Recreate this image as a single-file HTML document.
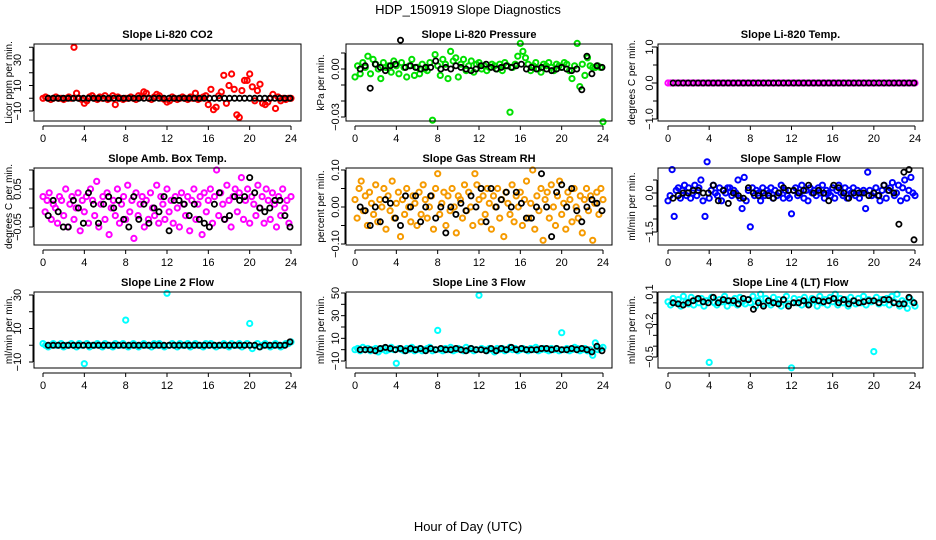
<!DOCTYPE html>
<html><head><meta charset="utf-8"><style>
html,body{margin:0;padding:0;background:#fff;}
svg{display:block;font-family:"Liberation Sans",Arial,sans-serif;}
</style></head><body>
<svg id="chart" width="936" height="540" viewBox="0 0 936 540" xmlns="http://www.w3.org/2000/svg">
<text x="468" y="14" font-size="13" text-anchor="middle">HDP_150919  Slope Diagnostics</text>
<text x="468" y="531" font-size="13" text-anchor="middle">Hour of Day (UTC)</text>
</svg>
<script>
const xTicks = [0,4,8,12,16,20,24];
const co2Vals = [0,1,0,-1,0,1,0,0,-1,0,1,0,40,4,0,-1,-4,-2,1,2,0,-1,1,0,2,-1,0,2,-5,1,0,-1,0,0,1,0,-1,2,1,5,4,0,-1,1,3,2,0,-1,-3,-2,1,0,-1,0,1,0,-1,1,0,4,-1,0,1,2,-5,7,-9,-7,2,5,18,-4,10,19,7,-13,-15,6,14,14,19,9,-2,6,11,-4,-5,-3,0,3,-8,1,-2,0,-1,0,0];
const co2Black = [0,0,0,0,0,0,0,0,0,0,0,0,0,0,0,0,0,0,0,0,0,0,0,0,0,0,0,0,0,0,0,0,0,0,0,0,0,0,0,0,0,0,0,0,0,0,0,0,0];
const presVals = [-0.005,0.002,-0.003,0.004,0.001,0.008,-0.003,0.006,0.003,0,-0.006,0.004,0.001,0.002,-0.002,0.005,0.002,-0.003,0.004,0.001,-0.005,0.002,0.006,-0.004,0.001,-0.003,0.003,0,-0.001,0.004,-0.032,0.009,0.002,-0.004,0.006,0.003,-0.006,0.011,0.005,0.007,-0.005,0.003,0.006,-0.001,0.002,0.005,-0.002,0.003,0.004,0,0.002,-0.001,0.001,0.003,0.002,0,0.003,-0.001,0.004,0.002,-0.027,0.001,0.003,0.008,0.016,0.011,0.007,0.003,-0.001,0.002,0.004,0,-0.002,0.003,0.002,0.004,0.001,-0.001,0.003,0.002,0.001,0.004,0.003,-0.001,-0.006,0.002,0.016,-0.011,0.003,-0.004,0.007,0.002,0.001,0.001,0.002,0.001,-0.033];
const presBlack = [0,0.002,-0.012,0.003,0.001,-0.001,0.002,0.003,0.018,0.001,0.002,0.001,0,0.001,0.001,0.005,0,0.001,0,0.002,0.001,0,-0.001,0,0.002,0.003,0.001,0,0.001,0.002,0.001,0.002,0.003,0,0.001,0,0.001,0,-0.001,0,0.001,0,-0.001,0,-0.013,0.008,-0.003,0.002,0.001];
const tempVals = [0,0,0,0,0,0,0,0,0,0,0,0,0,0,0,0,0,0,0,0,0,0,0,0,0,0,0,0,0,0,0,0,0,0,0,0,0,0,0,0,0,0,0,0,0,0,0,0,0,0,0,0,0,0,0,0,0,0,0,0,0,0,0,0,0,0,0,0,0,0,0,0,0,0,0,0,0,0,0,0,0,0,0,0,0,0,0,0,0,0,0,0,0,0,0,0,0];
const tempBlack = [0,0,0,0,0,0,0,0,0,0,0,0,0,0,0,0,0,0,0,0,0,0,0,0,0,0,0,0,0,0,0,0,0,0,0,0,0,0,0,0,0,0,0,0,0,0,0,0,0];
const boxVals = [0.03,-0.01,0.02,0.04,-0.03,0.01,0.0,-0.04,0.03,0.02,-0.02,0.05,-0.05,0.01,0.03,-0.03,0.0,0.04,-0.06,0.02,-0.01,0.03,-0.04,0.05,0.02,-0.02,0.07,-0.05,0.01,0.03,-0.03,0.04,-0.07,0.0,0.02,-0.02,0.05,-0.04,0.01,0.03,-0.03,0.06,-0.01,0.02,-0.08,0.04,-0.02,0.01,0.03,-0.05,0.02,-0.03,0.04,0.0,-0.02,0.06,-0.04,0.03,0.01,-0.03,0.05,-0.01,0.02,-0.04,0.03,0.0,-0.05,0.04,0.01,-0.02,0.03,-0.06,0.02,0.05,-0.03,0.01,0.03,-0.07,0.04,-0.01,0.02,0.05,-0.04,0.03,0.1,-0.02,0.04,0.01,-0.03,0.06,0.02,-0.05,0.03,0.05,-0.01,0.04,0.08,-0.03,0.02,0.05,-0.04,0.03,0.01,-0.02,0.06,0.0,0.03,-0.04,0.05,0.02,-0.03,0.04,0.01,-0.05,0.03,-0.02,0.05,0.0,0.02,-0.04,0.03];
const boxBlack = [-0.02,0.02,-0.01,-0.05,-0.05,0.02,0.0,-0.04,0.04,0.01,-0.04,0.01,0.03,0.0,0.02,-0.03,-0.05,0.03,-0.03,0.01,-0.04,0.0,-0.01,0.03,-0.06,0.02,0.02,0.01,-0.02,0.01,-0.03,-0.04,-0.05,0.01,0.04,-0.03,-0.02,0.03,0.02,0.03,0.08,0.04,0.0,-0.01,0.0,0.02,0.02,-0.02,-0.05];
const rhVals = [0.02,-0.03,0.05,0.07,-0.01,0.03,-0.05,0.04,0.01,-0.02,0.06,-0.04,0.02,0.0,0.05,-0.06,0.03,-0.01,0.07,-0.03,0.01,0.04,-0.08,0.02,-0.02,0.05,0.0,-0.04,0.03,0.01,-0.05,0.04,-0.02,0.06,0.02,-0.03,0.0,0.03,-0.06,0.05,0.09,-0.02,0.01,0.04,-0.05,0.03,-0.01,0.05,0.0,-0.07,0.03,0.02,-0.03,0.06,-0.01,0.04,0.0,-0.05,0.09,0.06,0.02,-0.04,0.03,-0.02,0.05,0.01,-0.06,0.03,0.0,0.05,-0.03,0.02,-0.08,0.04,0.01,-0.02,0.06,-0.04,0.03,0.0,0.04,-0.05,0.02,0.07,-0.03,0.01,0.1,-0.06,0.03,-0.01,0.05,-0.09,0.02,0.04,-0.03,0.06,0.0,-0.05,0.03,0.07,-0.02,0.01,-0.06,0.04,0.02,-0.04,0.05,0.0,-0.03,0.03,-0.07,0.02,0.05,-0.01,0.03,-0.09,0.01,0.04,-0.02,0.05,0.02];
const rhBlack = [0,-0.01,-0.05,0.0,-0.04,0.02,0.01,-0.03,-0.05,0.03,0.0,0.03,-0.04,0.0,0.03,-0.03,0.0,-0.07,0.0,-0.02,0.01,-0.01,0.03,0.0,0.05,-0.04,0.05,0.0,0.02,0.04,0.0,0.04,0.01,-0.03,-0.03,0.0,0.09,0.0,-0.08,0.04,0.06,0.0,0.05,-0.01,-0.04,0.0,0.02,0.01,-0.01];
const sfVals = [-0.3,-0.1,0.9,-0.9,0.1,0.2,-0.2,0.1,0.3,-0.1,0.2,-0.2,0.0,0.3,-0.1,0.2,0.5,-0.3,-0.9,1.2,-0.2,0.1,0.3,0.0,-0.1,0.2,-0.3,0.1,0.0,0.2,0.2,-0.1,0.1,0.0,0.5,-0.2,-0.6,0.6,-0.3,0.1,-1.3,0.2,-0.1,0.1,0.0,-0.3,0.2,-0.1,0.1,0.0,0.2,-0.2,0.1,-0.1,0.0,0.3,-0.2,0.1,-0.1,-0.2,-0.8,0.1,0.2,-0.1,0.0,0.3,-0.2,0.1,-0.3,0.2,0.0,0.1,-0.1,0.2,0.0,0.3,-0.2,0.1,0.0,-0.1,0.2,-0.2,0.1,0.3,0.0,-0.1,0.2,-0.2,0.1,0.0,0.2,-0.1,0.1,-0.2,0.0,0.1,-0.6,0.8,0.1,-0.1,0.0,0.2,-0.1,-0.3,0.1,0.3,-0.2,0.1,0.2,0.4,-0.1,0.0,0.3,-0.3,0.2,0.5,-0.2,0.1,0.6,0.0,-0.1];
const sfBlack = [-0.2,-0.1,0.0,0.0,0.1,0.1,0.0,0.0,0.3,-0.3,0.1,-0.4,0.0,-0.1,-0.2,0.2,0.0,-0.1,0.0,-0.1,-0.2,0.0,0.2,0.1,0.1,0.0,0.1,0.3,0.0,0.1,0.0,-0.3,0.3,0.2,0.0,-0.2,0.0,0.0,0.0,-0.1,0.0,-0.1,0.3,0.1,0.0,-1.2,0.8,0.9,-1.8];
const l2Vals = [1,0,-1,0,1,0,0,1,-1,0,0,1,0,-1,1,0,-11,1,-1,0,0,1,0,-1,1,0,0,-1,1,0,0,1,15,-1,0,1,0,-1,0,1,0,0,-1,1,0,1,0,-1,31,0,1,0,-1,1,0,0,1,-1,0,1,0,0,-1,1,0,1,0,-1,0,0,1,0,-1,1,0,0,1,-1,0,1,13,-2,0,1,-1,0,1,0,-1,0,1,0,-1,0,1,1,2];
const l2Black = [0,0,0,0,0,0,0,0,0,0,0,0,0,0,0,0,0,0,0,0,0,0,0,0,0,0,0,0,0,0,0,0,0,0,0,0,0,0,0,0,0,0,-1,0,0,0,0,0,2];
const l3Vals = [0,1,-1,2,0,1,-1,0,1,-2,0,1,-1,0,2,0,-12,1,0,-1,1,0,2,-1,0,1,-1,0,1,2,-1,0,17,0,-1,1,0,2,-1,0,1,0,-1,2,0,1,-1,0,48,1,0,-1,1,0,-2,1,0,1,-1,0,2,0,1,-1,0,1,0,-1,1,0,2,-1,0,1,0,-1,1,0,1,-1,15,0,1,-1,0,2,1,-1,0,1,-1,0,-5,6,0,1,2];
const l3Black = [0,0,0,-1,1,2,1,0,1,-1,1,0,1,-1,1,0,1,0,0,1,0,-1,1,0,0,-1,1,-1,1,0,2,0,1,0,0,0,1,1,0,1,0,0,1,0,1,0,-2,3,-1];
const l4Vals = [0.01,-0.02,0.04,0.0,0.03,-0.03,0.06,0.01,-0.01,0.05,-0.02,0.03,0.0,0.04,-0.03,0.02,-0.55,0.05,0.0,-0.02,0.03,0.01,0.06,-0.03,0.02,0.0,0.04,-0.02,0.05,0.01,-0.01,0.03,0.0,0.06,-0.03,0.02,0.08,-0.01,0.04,0.0,-0.02,0.05,0.01,0.03,-0.03,0.02,0.06,-0.01,-0.6,0.04,0.0,0.03,-0.02,0.05,0.01,-0.01,0.04,0.02,-0.03,0.06,0.0,0.03,-0.02,0.05,0.01,0.08,-0.02,0.04,0.0,0.03,-0.03,0.05,0.02,-0.01,0.04,0.0,0.06,-0.02,0.03,0.01,-0.45,0.05,-0.01,0.03,0.0,0.04,-0.02,0.06,0.01,0.08,-0.03,0.02,0.0,-0.05,0.04,0.01,-0.03];
const l4Black = [0.0,-0.01,-0.02,0.0,0.02,0.04,0.01,0.0,0.05,0.0,0.03,0.02,0.02,-0.01,0.04,0.03,-0.06,0.0,-0.03,0.02,0.0,-0.01,0.03,-0.03,0.0,0.0,0.02,-0.02,0.03,0.02,0.01,0.02,0.04,0.0,0.03,-0.01,0.02,0.0,0.01,0.02,0.02,0.0,0.03,0.03,0.0,-0.01,-0.01,0.05,0.0];

const panels = [
 {name:'co2',title:'Slope Li-820 CO2',ylab:'Licor ppm per min.',col:0,row:0,ref:[30,60,-10,111],ticks:[-10,0,10,20,30,40],labels:[-10,10,30],fmt:0,vals:co2Vals,black:co2Black,color:'#ff0000'},
 {name:'pressure',title:'Slope Li-820 Pressure',ylab:'kPa per min.',col:1,row:0,ref:[0,69,-0.03,117],ticks:[0.01,0,-0.01,-0.02,-0.03],labels:[0,-0.03],fmt:2,vals:presVals,black:presBlack,color:'#00e000'},
 {name:'temp',title:'Slope Li-820 Temp.',ylab:'degrees C per min.',col:2,row:0,ref:[1,47,-1,119],ticks:[1,0.5,0,-0.5,-1],labels:[1,0,-1],fmt:1,vals:tempVals,black:tempBlack,color:'#ff00ff'},
 {name:'box-temp',title:'Slope Amb. Box Temp.',ylab:'degrees C per min.',col:0,row:1,ref:[0.05,189,-0.05,227],ticks:[0.1,0.05,0,-0.05],labels:[0.05,-0.05],fmt:2,vals:boxVals,black:boxBlack,color:'#ff00ff'},
 {name:'gas-rh',title:'Slope Gas Stream RH',ylab:'percent per min.',col:1,row:1,ref:[0.1,170,-0.1,244],ticks:[0.1,0.05,0,-0.05,-0.1],labels:[0.1,0,-0.1],fmt:2,vals:rhVals,black:rhBlack,color:'#f59a00'},
 {name:'sample-flow',title:'Slope Sample Flow',ylab:'ml/min per min.',col:2,row:1,ref:[0,193,-1.5,232],ticks:[0.5,0,-0.5,-1,-1.5],labels:[0,-1.5],fmt:1,vals:sfVals,black:sfBlack,color:'#0000ff'},
 {name:'line2-flow',title:'Slope Line 2 Flow',ylab:'ml/min per min.',col:0,row:2,ref:[30,295,-10,362],ticks:[30,20,10,0,-10],labels:[30,10,-10],fmt:0,vals:l2Vals,black:l2Black,color:'#00ffff'},
 {name:'line3-flow',title:'Slope Line 3 Flow',ylab:'ml/min per min.',col:1,row:2,ref:[50,293,-10,361],ticks:[50,40,30,20,10,0,-10],labels:[50,30,10,-10],fmt:0,vals:l3Vals,black:l3Black,color:'#00ffff'},
 {name:'line4-flow',title:'Slope Line 4 (LT) Flow',ylab:'ml/min per min.',col:2,row:2,ref:[0.1,292,-0.5,357],ticks:[0.1,0,-0.1,-0.2,-0.3,-0.4,-0.5],labels:[0.1,-0.2,-0.5],fmt:1,vals:l4Vals,black:l4Black,color:'#00ffff'}
];
const colGeom = [{l:34,r:301,x0:43,x24:291,ylab:17,ytitle:8},{l:346,r:612,x0:355,x24:603,ylab:335,ytitle:320},{l:658,r:923,x0:668,x24:915,ylab:649,ytitle:631}];
const rowGeom = [{t:44,b:121},{t:168,b:245},{t:292,b:368}];

const NS='http://www.w3.org/2000/svg';
const svg=document.getElementById('chart');
function mk(tag,attrs,parent){const e=document.createElementNS(NS,tag);for(const k in attrs)e.setAttribute(k,attrs[k]);(parent||svg).appendChild(e);return e;}
function fmtNum(v,d){return v.toFixed(d).replace('-','\u2212');}

panels.forEach(p=>{
  const c=colGeom[p.col], r=rowGeom[p.row];
  const g=mk('g',{});
  
  
  const xs=h=>c.x0+(c.x24-c.x0)*h/24;
  const ys=v=>p.ref[1]+(v-p.ref[0])*(p.ref[3]-p.ref[1])/(p.ref[2]-p.ref[0]);
  const t=mk('text',{x:(c.l+c.r)/2,y:r.t-6,'font-size':11,'font-weight':'bold','text-anchor':'middle'},g);
  t.textContent=p.title;
  
  
  const pts=mk('g',{fill:'none'},g);
  
  
  const n=p.vals.length;
  p.vals.forEach((v,i)=>{
    const h=24*i/(n-1);
    const ci=mk('circle',{cx:xs(h).toFixed(1),cy:ys(v).toFixed(1),r:2.6,stroke:p.color,'stroke-width':2},pts);
    
    
  });
  const bp=mk('g',{fill:'none'},g);
  
  
  const m=p.black.length;
  p.black.forEach((v,i)=>{
    const h=0.5+23.4*i/(m-1);
    const ci=mk('circle',{cx:xs(h).toFixed(1),cy:ys(v).toFixed(1),r:2.6,stroke:'#000','stroke-width':1.8},bp);
    
    
  });
  const box=mk('rect',{x:c.l,y:r.t,width:c.r-c.l,height:r.b-r.t,fill:'none',stroke:'#000','stroke-width':1},g);
  
  
  const xa=mk('g',{},g);
  
  
  const ay=r.b+5;
  mk('line',{x1:xs(0),x2:xs(24),y1:ay,y2:ay,stroke:'#000'},xa);
  xTicks.forEach(h=>{
    mk('line',{x1:xs(h),x2:xs(h),y1:ay,y2:ay+4,stroke:'#000'},xa);
    const tl=mk('text',{x:xs(h),y:ay+16,'font-size':11,'text-anchor':'middle'},xa);
    tl.textContent=h;
  });
  const ya=mk('g',{},g);
  
  
  const ax=c.l-1;
  mk('line',{x1:ax,x2:ax,y1:ys(Math.max(...p.ticks)),y2:ys(Math.min(...p.ticks)),stroke:'#000'},ya);
  p.ticks.forEach(v=>{mk('line',{x1:ax-4,x2:ax,y1:ys(v),y2:ys(v),stroke:'#000'},ya);});
  p.labels.forEach(v=>{
    const tl=mk('text',{x:0,y:0,'font-size':11,'text-anchor':'middle',transform:`translate(${c.ylab+4},${ys(v)}) rotate(-90)`},ya);
    tl.textContent=fmtNum(v,p.fmt);
  });
  const yt=mk('text',{x:0,y:0,'font-size':10,'text-anchor':'middle',transform:`translate(${c.ytitle+4},${(r.t+r.b)/2}) rotate(-90)`},g);
  yt.textContent=p.ylab;
  
  
});
</script>
</body></html>
